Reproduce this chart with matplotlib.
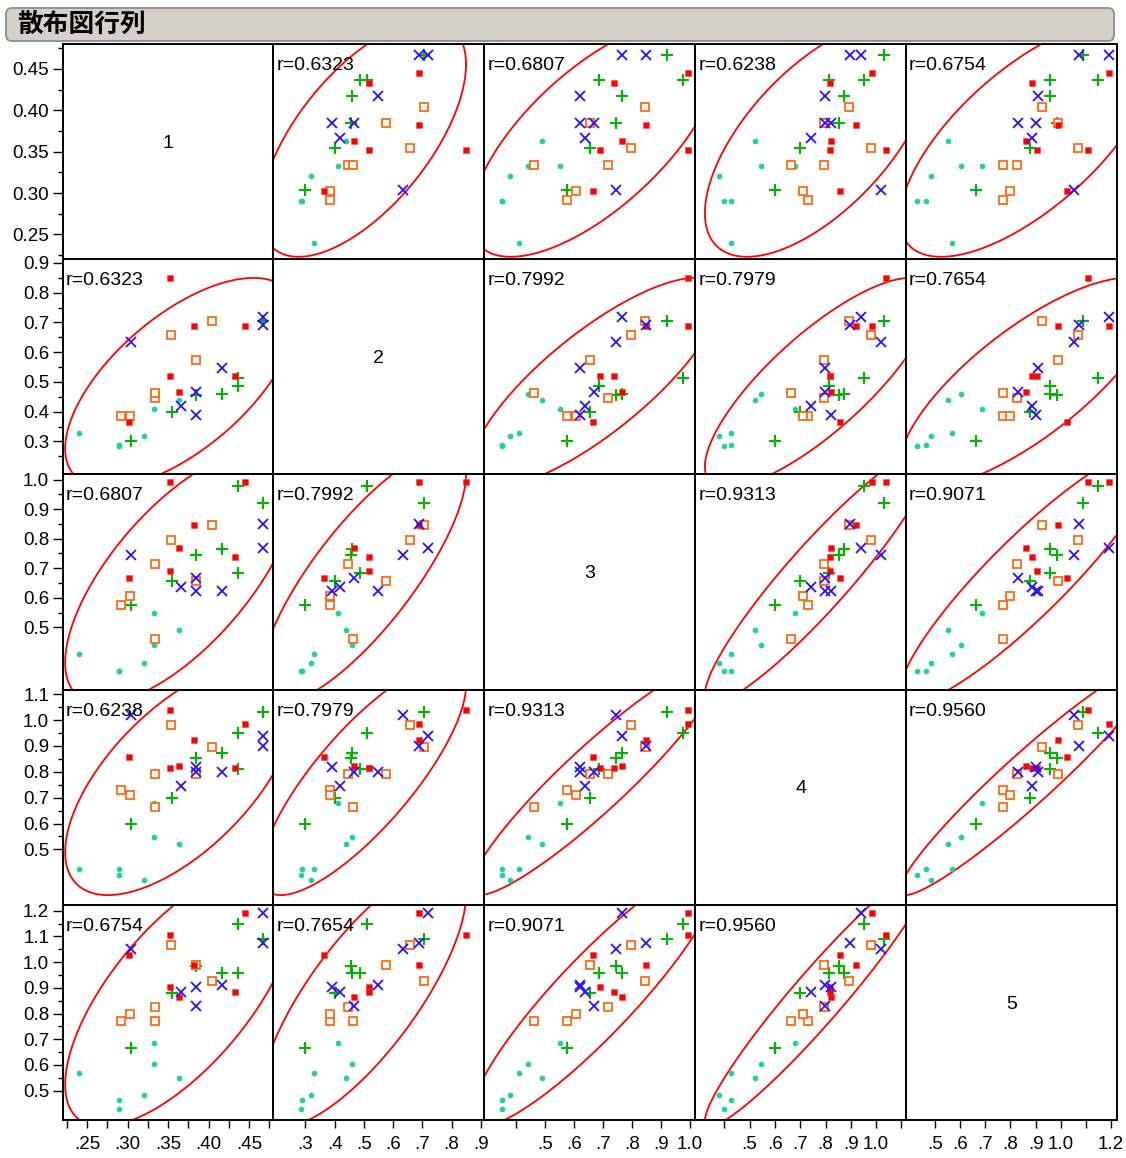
import numpy as np
import matplotlib
matplotlib.use("Agg")
import matplotlib.pyplot as plt
from matplotlib.patches import FancyBboxPatch

# ---------------- data ----------------
title = "散布図行列"
var_names = ["1", "2", "3", "4", "5"]
r_labels = {(0, 1): "r=0.6323", (0, 2): "r=0.6807", (0, 3): "r=0.6238", (0, 4): "r=0.6754",
            (1, 2): "r=0.7992", (1, 3): "r=0.7979", (1, 4): "r=0.7654",
            (2, 3): "r=0.9313", (2, 4): "r=0.9071", (3, 4): "r=0.9560"}

group_names = ["cyan", "green", "orange", "red", "blue"]
group = ["cyan"] * 7 + ["green"] * 7 + ["orange"] * 7 + ["red"] * 7 + ["blue"] * 7

v1 = [0.240, 0.290, 0.290, 0.320, 0.333, 0.333, 0.363,
      0.304, 0.355, 0.385, 0.417, 0.437, 0.437, 0.467,
      0.292, 0.303, 0.334, 0.334, 0.354, 0.384, 0.404,
      0.302, 0.352, 0.352, 0.363, 0.382, 0.433, 0.445,
      0.304, 0.366, 0.385, 0.385, 0.417, 0.467, 0.467]
v2 = [0.329, 0.288, 0.286, 0.318, 0.410, 0.459, 0.440,
      0.300, 0.400, 0.456, 0.459, 0.512, 0.487, 0.704,
      0.385, 0.385, 0.445, 0.464, 0.657, 0.575, 0.704,
      0.365, 0.848, 0.519, 0.465, 0.689, 0.519, 0.689,
      0.635, 0.418, 0.390, 0.465, 0.548, 0.719, 0.690]
v3 = [0.410, 0.352, 0.352, 0.380, 0.550, 0.440, 0.490,
      0.575, 0.656, 0.745, 0.764, 0.977, 0.685, 0.922,
      0.575, 0.605, 0.716, 0.461, 0.795, 0.656, 0.846,
      0.666, 0.993, 0.689, 0.767, 0.847, 0.737, 0.993,
      0.746, 0.638, 0.622, 0.667, 0.622, 0.767, 0.848]
v4 = [0.426, 0.426, 0.400, 0.380, 0.680, 0.546, 0.520,
      0.600, 0.698, 0.853, 0.872, 0.951, 0.812, 1.032,
      0.731, 0.711, 0.793, 0.663, 0.981, 0.793, 0.894,
      0.857, 1.038, 0.816, 0.822, 0.922, 0.816, 0.984,
      1.018, 0.744, 0.820, 0.798, 0.798, 0.939, 0.898]
v5 = [0.568, 0.463, 0.428, 0.484, 0.686, 0.605, 0.551,
      0.665, 0.878, 0.985, 0.957, 1.148, 0.957, 1.088,
      0.772, 0.800, 0.825, 0.772, 1.068, 0.988, 0.926,
      1.026, 1.107, 0.904, 0.863, 0.988, 0.884, 1.190,
      1.052, 0.884, 0.903, 0.828, 0.910, 1.190, 1.074]

x_ticks = [
    [0.225, 0.25, 0.275, 0.30, 0.325, 0.35, 0.375, 0.40, 0.425, 0.45, 0.475],
    [0.3, 0.4, 0.5, 0.6, 0.7, 0.8, 0.9],
    [0.4, 0.5, 0.6, 0.7, 0.8, 0.9, 1.0],
    [0.4, 0.5, 0.6, 0.7, 0.8, 0.9, 1.0, 1.1],
    [0.5, 0.6, 0.7, 0.8, 0.9, 1.0, 1.1, 1.2],
]
x_labels = [
    ["", ".25", "", ".30", "", ".35", "", ".40", "", ".45", ""],
    [".3", ".4", ".5", ".6", ".7", ".8", ".9"],
    ["", ".5", ".6", ".7", ".8", ".9", "1.0"],
    ["", ".5", ".6", ".7", ".8", ".9", "1.0", ""],
    [".5", ".6", ".7", ".8", ".9", "1.0", "", "1.2"],
]
y_major = [
    [0.25, 0.30, 0.35, 0.40, 0.45],
    [0.3, 0.4, 0.5, 0.6, 0.7, 0.8, 0.9],
    [0.5, 0.6, 0.7, 0.8, 0.9, 1.0],
    [0.5, 0.6, 0.7, 0.8, 0.9, 1.0, 1.1],
    [0.5, 0.6, 0.7, 0.8, 0.9, 1.0, 1.1, 1.2],
]
y_major_labels = [
    ["0.25", "0.30", "0.35", "0.40", "0.45"],
    ["0.3", "0.4", "0.5", "0.6", "0.7", "0.8", "0.9"],
    ["0.5", "0.6", "0.7", "0.8", "0.9", "1.0"],
    ["0.5", "0.6", "0.7", "0.8", "0.9", "1.0", "1.1"],
    ["0.5", "0.6", "0.7", "0.8", "0.9", "1.0", "1.1", "1.2"],
]
y_minor = [
    [0.225, 0.275, 0.325, 0.375, 0.425, 0.475],
    [0.25, 0.35, 0.45, 0.55, 0.65, 0.75, 0.85],
    [0.55, 0.65, 0.75, 0.85, 0.95],
    [0.55, 0.65, 0.75, 0.85, 0.95, 1.05],
    [0.55, 0.65, 0.75, 0.85, 0.95, 1.05, 1.15],
]
limits = [(0.220, 0.480), (0.190, 0.912), (0.290, 1.018), (0.285, 1.118), (0.385, 1.222)]

# ---------------- layout / styling ----------------
W, H = 1126, 1158
col_edges = [62.7, 273.3, 484.3, 695.2, 906.0, 1116.7]
row_edges = [44.0, 259.3, 474.2, 689.5, 905.0, 1120.3]

styles = {
    "cyan":   dict(marker="o", ms=3.6, mfc="#1fcf9c", mec="#1fcf9c", mew=0.5),
    "green":  dict(marker="+", ms=8.0, mfc="none", mec="#00b400", mew=1.5),
    "orange": dict(marker="s", ms=5.6, mfc="white", mec="#ff6a10", mew=1.3),
    "red":    dict(marker="s", ms=4.0, mfc="#ff0000", mec="#ff4040", mew=0.4),
    "blue":   dict(marker="x", ms=6.6, mfc="none", mec="#2a10ff", mew=1.3),
}
plt.rcParams["font.family"] = ["Liberation Sans", "DejaVu Sans"]
fig = plt.figure(figsize=(W / 100, H / 100), dpi=100)

bar = FancyBboxPatch((6, H - 41), 1108, 33, boxstyle="round,pad=0,rounding_size=6",
                     transform=None, facecolor="#d4d0c8", edgecolor="#8c8c8c", linewidth=1.3)
fig.add_artist(bar)
fig.text(17 / W, 1 - 24 / H, title, fontsize=18.5, fontweight="bold", va="center", ha="left",
         family=["Noto Sans CJK JP", "DejaVu Sans"])

data = [np.array(v) for v in (v1, v2, v3, v4, v5)]
grp = np.array(group)
chi = 5.991          # 95% bivariate-normal density ellipse
t = np.linspace(0, 2 * np.pi, 500)
n = 5
for i in range(n):          # row -> y variable
    for j in range(n):      # col -> x variable
        l = col_edges[j] / W
        r_ = col_edges[j + 1] / W
        top = 1 - row_edges[i] / H
        bot = 1 - row_edges[i + 1] / H
        ax = fig.add_axes([l, bot, r_ - l, top - bot])
        ax.set_xlim(*limits[j])
        ax.set_ylim(*limits[i])
        for s in ax.spines.values():
            s.set_linewidth(1.4)
        ax.tick_params(which="both", direction="out", width=1.0, labelsize=13.5)
        if j == 0:
            ax.set_yticks(y_major[i])
            ax.set_yticklabels(y_major_labels[i])
            ax.set_yticks(y_minor[i], minor=True)
            ax.tick_params(axis="y", which="major", length=7.2, pad=2.5)
            ax.tick_params(axis="y", which="minor", length=3.6)
        else:
            ax.set_yticks([])
            ax.set_yticks([], minor=True)
        if i == n - 1:
            ax.set_xticks(x_ticks[j])
            ax.set_xticklabels(x_labels[j])
            ax.tick_params(axis="x", which="major", length=6.0, pad=5.0)
        else:
            ax.set_xticks([])
        ax.set_xticks([], minor=True)

        if i == j:
            ax.text(0.5, 0.54, var_names[i], transform=ax.transAxes, ha="center", va="center",
                    fontsize=14)
            continue

        x = data[j]
        y = data[i]
        cov = np.cov(x, y)
        L = np.linalg.cholesky(cov)
        pts = np.sqrt(chi) * L @ np.vstack([np.cos(t), np.sin(t)])
        ax.plot(x.mean() + pts[0], y.mean() + pts[1], color="#ff0000", lw=1.3, zorder=2)

        for g in group_names:
            m = grp == g
            ax.plot(x[m], y[m], linestyle="none", zorder=3, **styles[g])

        key = (min(i, j), max(i, j))
        ax.annotate(r_labels[key], xy=(0, 1), xycoords="axes fraction",
                    xytext=(3, -26), textcoords="offset pixels", va="baseline", ha="left",
                    fontsize=14, zorder=5)

fig.savefig("out.png", dpi=100)
